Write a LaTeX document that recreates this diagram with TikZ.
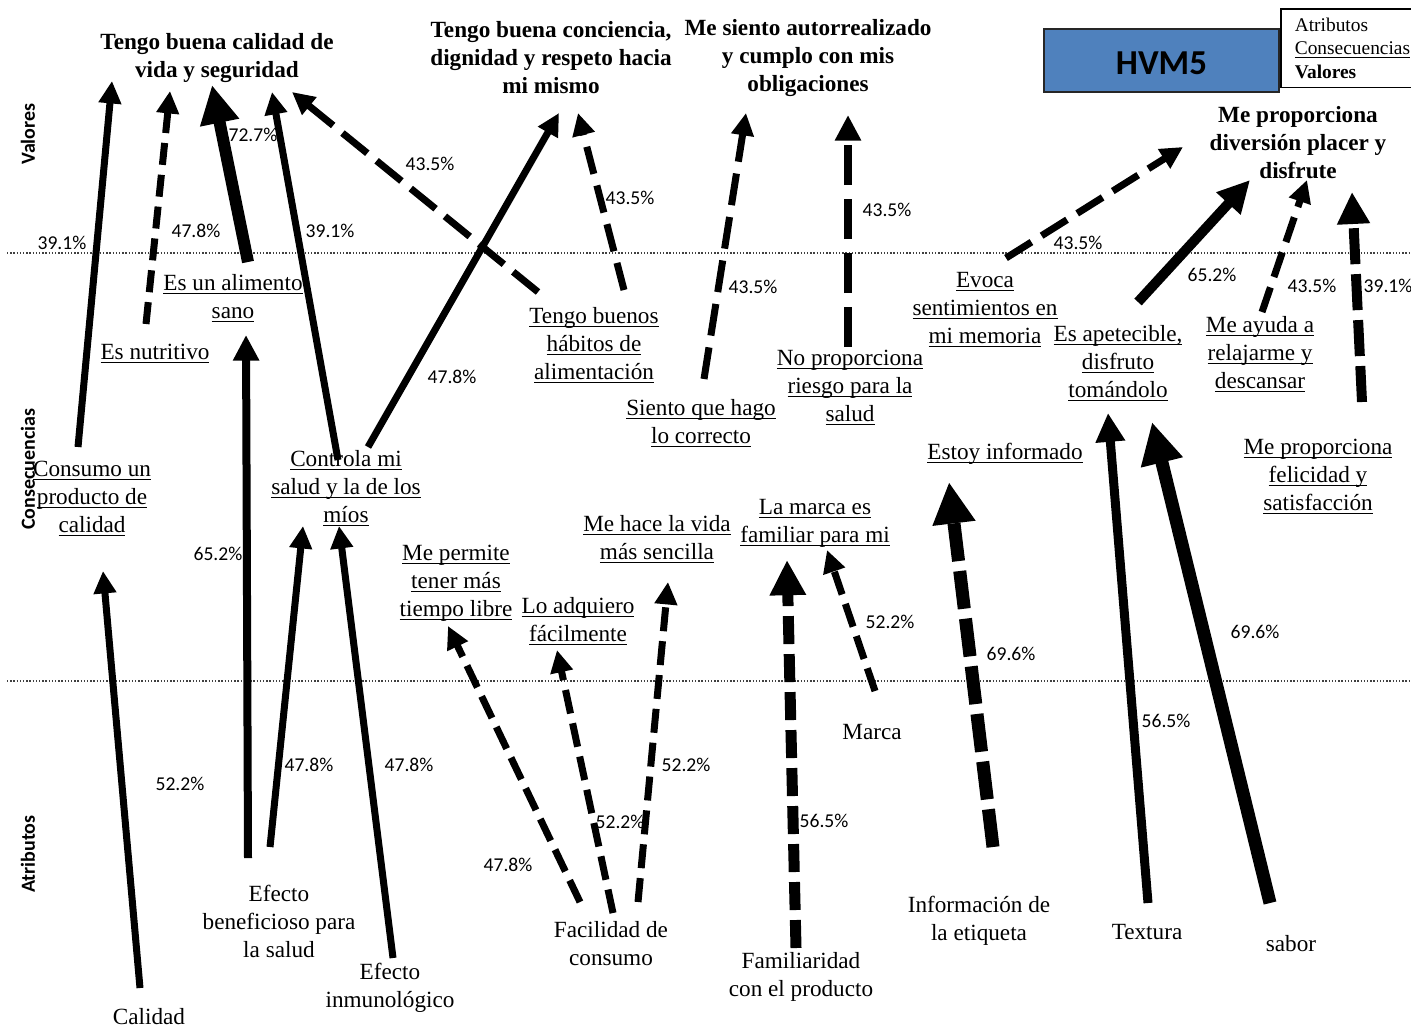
\documentclass[tikz,border=0pt]{standalone}
\usepackage{fontspec}
\setmainfont{Liberation Serif}
\newfontfamily\calfont{Carlito}
\usetikzlibrary{arrows.meta}
\definecolor{hvmblue}{RGB}{79,129,189}
\newsavebox\undlbox
\newcommand{\undl}[1]{\sbox\undlbox{#1}\rlap{\rule[-1.7pt]{\wd\undlbox}{0.5pt}}\usebox\undlbox}

\begin{document}
\begin{tikzpicture}[x=0.5pt, y=-0.5pt,
  val/.style={font=\bfseries\fontsize{11.6}{14}\selectfont, align=center},
  cons/.style={font=\fontsize{11.6}{14}\selectfont, align=center},
  attr/.style={font=\fontsize{11.6}{14}\selectfont, align=center},
  pct/.style={font=\calfont\fontsize{9.8}{12}\selectfont, inner sep=0pt},
  level/.style={font=\calfont\bfseries\fontsize{10}{12}\selectfont, rotate=90},
  sep/.style={draw=black!75, line width=0.6pt, dash pattern=on 0.7pt off 0.9pt},
  link/.style={line width=3.5pt, -{Triangle[length=0pt 3.2, width=0pt 3.1]}},
  dlink/.style={link, dash pattern=on 13pt off 5.5pt}
]
  \useasboundingbox (0,0) rectangle (1411,1029);

  % levels
  \draw[sep] (7,253) -- (1411,253);
  \draw[sep] (7,681) -- (1411,681);
  \node[level] (lv) at (28,134) {Valores};
  \node[level] (lc) at (28,469) {Consecuencias};
  \node[level] (la) at (28,854) {Atributos};

  % title and legend
  \node[draw=black!85, line width=1pt, fill=hvmblue, minimum width=117.5pt, minimum height=31.5pt,
        font=\calfont\bfseries\fontsize{17.5}{20}\selectfont, text height=13.8pt, text depth=0pt] (hvm) at (1161.5,60.5) {HVM5};
  \node[draw, line width=0.8pt, anchor=north west, align=left, inner xsep=7pt, inner ysep=4.5pt,
        font=\rmfamily\fontsize{9.7}{11.75}\selectfont] (legend) at (1280,8)
        {Atributos\\\undl{Consecuencias}\\\textbf{Valores}};

  % valores
  \node[val] (calvida) at (217,58) {Tengo buena calidad de\\vida y seguridad};
  \node[val] (concien) at (551,58) {Tengo buena conciencia,\\dignidad y respeto hacia\\mi mismo};
  \node[val] (autorreal) at (808,58) {Me siento autorrealizado\\y cumplo con mis\\obligaciones};
  \node[val] (diversion) at (1298,143) {Me proporciona\\diversión placer y\\disfrute};

  % consecuencias
  \node[cons] (sano) at (233,298) {\undl{Es un alimento}\\\undl{sano}};
  \node[cons] (nutri) at (155,354) {\undl{Es nutritivo}};
  \node[cons] (habitos) at (594,345) {\undl{Tengo buenos}\\\undl{hábitos de}\\\undl{alimentación}};
  \node[cons] (correcto) at (701,423) {\undl{Siento que hago}\\\undl{lo correcto}};
  \node[cons] (riesgo) at (850,388) {\undl{No proporciona}\\\undl{riesgo para la}\\\undl{salud}};
  \node[cons] (memoria) at (985,310) {\undl{Evoca}\\\undl{sentimientos en}\\\undl{mi memoria}};
  \node[cons] (apetece) at (1118,363) {\undl{Es apetecible,}\\\undl{disfruto}\\\undl{tomándolo}};
  \node[cons] (relaja) at (1260,354) {\undl{Me ayuda a}\\\undl{relajarme y}\\\undl{descansar}};
  \node[cons] (informado) at (1005,454) {\undl{Estoy informado}};
  \node[cons] (felicidad) at (1318,477) {\undl{Me proporciona}\\\undl{felicidad y}\\\undl{satisfacción}};
  \node[cons] (prodcal) at (92,499) {\undl{Consumo un}\\\undl{producto de}\\\undl{calidad}};
  \node[cons] (controla) at (346,488) {\undl{Controla mi}\\\undl{salud y la de los}\\\undl{míos}};
  \node[cons] (tiempo) at (456,583) {\undl{Me permite}\\\undl{tener más}\\\undl{tiempo libre}};
  \node[cons] (adquiero) at (578,621) {\undl{Lo adquiero}\\\undl{fácilmente}};
  \node[cons] (sencilla) at (657,539) {\undl{Me hace la vida}\\\undl{más sencilla}};
  \node[cons] (familiar) at (815,523) {\undl{La marca es}\\\undl{familiar para mi}};

  % atributos
  \node[attr, inner ysep=0.5pt] (calidad) at (149,1017) {Calidad};
  \node[attr] (benef) at (279,921) {Efecto\\beneficioso para\\la salud};
  \node[attr] (inmuno) at (390,988) {Efecto\\inmunológico};
  \node[attr] (facil) at (611,944) {Facilidad de\\consumo};
  \node[attr] (famil) at (801,977) {Familiaridad\\con el producto};
  \node[attr] (marca) at (872,732) {Marca};
  \node[attr] (etiqueta) at (979,921) {Información de\\la etiqueta};
  \node[attr] (textura) at (1147,932) {Textura};
  \node[attr] (sabor) at (1291,944) {sabor};

  % arrow ends
  \coordinate (prodcal-o) at (78,447);    \coordinate (calvida-a) at (112,81);
  \coordinate (nutri-o) at (146,324);     \coordinate (calvida-b) at (170,91);
  \coordinate (sano-o) at (248,262);      \coordinate (calvida-c) at (212,85);
  \coordinate (controla-o) at (338,460);  \coordinate (calvida-d) at (272,92);
  \coordinate (habitos-o) at (538,292);   \coordinate (calvida-e) at (292,92);
  \coordinate (controla-p) at (368,447);  \coordinate (concien-a) at (559,113);
  \coordinate (habitos-p) at (624,290);   \coordinate (concien-b) at (578,113);
  \coordinate (correcto-o) at (704,379);  \coordinate (autorreal-a) at (746,113);
  \coordinate (riesgo-o) at (848,347);    \coordinate (autorreal-b) at (848,115);
  \coordinate (memoria-o) at (1006,258);  \coordinate (diversion-a) at (1183,147);
  \coordinate (apetece-o) at (1138,302);  \coordinate (diversion-b) at (1250,180);
  \coordinate (relaja-o) at (1262,312);   \coordinate (diversion-c) at (1307,180);
  \coordinate (felicidad-o) at (1362,402);\coordinate (diversion-d) at (1352,192);
  \coordinate (calidad-o) at (140,988);   \coordinate (prodcal-i) at (103,571);
  \coordinate (benef-o) at (248,858);     \coordinate (sano-i) at (246,335);
  \coordinate (benef-p) at (270,847);     \coordinate (controla-i) at (303,526);
  \coordinate (inmuno-o) at (393,958);    \coordinate (controla-j) at (339,526);
  \coordinate (facil-o) at (580,902);     \coordinate (tiempo-i) at (448,626);
  \coordinate (facil-p) at (613,913);     \coordinate (adquiero-i) at (557,650);
  \coordinate (facil-q) at (638,902);     \coordinate (sencilla-i) at (668,582);
  \coordinate (famil-o) at (796,948);     \coordinate (familiar-i) at (787,560);
  \coordinate (marca-o) at (875,691);     \coordinate (familiar-j) at (827,550);
  \coordinate (etiqueta-o) at (993,847);  \coordinate (informado-i) at (949,482);
  \coordinate (textura-o) at (1148,903);  \coordinate (apetece-i) at (1108,413);
  \coordinate (sabor-o) at (1270,903);    \coordinate (apetece-j) at (1152,422);

  % consecuencias -> valores
  \draw[link] (prodcal-o) -- (calvida-a);
  \draw[dlink, dash pattern=on 11pt off 5pt] (nutri-o) -- (calvida-b);
  \draw[link, line width=6pt] (sano-o) -- (calvida-c);
  \draw[link] (controla-o) -- (calvida-d);
  \draw[dlink, dash pattern=on 16pt off 6pt] (habitos-o) -- (calvida-e);
  \draw[link] (controla-p) -- (concien-a);
  \draw[dlink, dash pattern=on 14pt off 6pt] (habitos-p) -- (concien-b);
  \draw[dlink, dash pattern=on 16pt off 6pt] (correcto-o) -- (autorreal-a);
  \draw[dlink, line width=4pt, dash pattern=on 20pt off 7pt] (riesgo-o) -- (autorreal-b);
  \draw[dlink, dash pattern=on 15pt off 6pt] (memoria-o) -- (diversion-a);
  \draw[link, line width=5pt] (apetece-o) -- (diversion-b);
  \draw[dlink] (relaja-o) -- (diversion-c);
  \draw[dlink, line width=5pt, dash pattern=on 18pt off 5pt] (felicidad-o) -- (diversion-d);

  % atributos -> consecuencias
  \draw[link] (calidad-o) -- (prodcal-i);
  \draw[link, line width=4pt] (benef-o) -- (sano-i);
  \draw[link] (benef-p) -- (controla-i);
  \draw[link] (inmuno-o) -- (controla-j);
  \draw[dlink, dash pattern=on 12pt off 5pt] (facil-o) -- (tiempo-i);
  \draw[dlink, dash pattern=on 12pt off 5pt] (facil-p) -- (adquiero-i);
  \draw[dlink, dash pattern=on 12pt off 5pt] (facil-q) -- (sencilla-i);
  \draw[dlink, line width=5.5pt, dash pattern=on 14pt off 5pt] (famil-o) -- (familiar-i);
  \draw[dlink, dash pattern=on 12pt off 5pt] (marca-o) -- (familiar-j);
  \draw[dlink, line width=6.5pt, dash pattern=on 19pt off 5pt] (etiqueta-o) -- (informado-i);
  \draw[link, line width=4.5pt] (textura-o) -- (apetece-i);
  \draw[link, line width=6.5pt] (sabor-o) -- (apetece-j);

  % percentages
  \node[pct] (p1) at (62,243) {39.1\%};
  \node[pct] (p2) at (196,231) {47.8\%};
  \node[pct] (p3) at (253,135) {72.7\%};
  \node[pct] (p4) at (330,231) {39.1\%};
  \node[pct] (p5) at (430,164) {43.5\%};
  \node[pct] (p6) at (452,377) {47.8\%};
  \node[pct] (p7) at (630,198) {43.5\%};
  \node[pct] (p8) at (753,287) {43.5\%};
  \node[pct] (p9) at (887,210) {43.5\%};
  \node[pct] (p10) at (1078,243) {43.5\%};
  \node[pct] (p11) at (1212,275) {65.2\%};
  \node[pct] (p12) at (1312,286) {43.5\%};
  \node[pct] (p13) at (1388,286) {39.1\%};
  \node[pct] (p14) at (180,784) {52.2\%};
  \node[pct] (p15) at (218,554) {65.2\%};
  \node[pct] (p16) at (309,765) {47.8\%};
  \node[pct] (p17) at (409,765) {47.8\%};
  \node[pct] (p18) at (508,865) {47.8\%};
  \node[pct] (p19) at (620,822) {52.2\%};
  \node[pct] (p20) at (686,765) {52.2\%};
  \node[pct] (p21) at (824,821) {56.5\%};
  \node[pct] (p22) at (890,622) {52.2\%};
  \node[pct] (p23) at (1011,654) {69.6\%};
  \node[pct] (p24) at (1166,721) {56.5\%};
  \node[pct] (p25) at (1255,632) {69.6\%};
\end{tikzpicture}
\end{document}
